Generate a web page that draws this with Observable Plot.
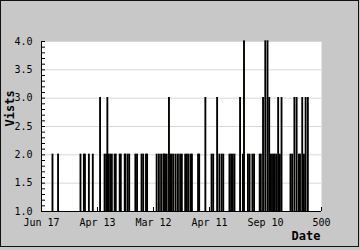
<!DOCTYPE html>
<html><head><meta charset="utf-8">
<script src="https://cdn.jsdelivr.net/npm/d3@7"></script>
<script src="https://cdn.jsdelivr.net/npm/@observablehq/plot@0.6"></script>
<style>
html,body{margin:0;padding:0;background:#c8c8c8;}
#wrap{position:relative;width:360px;height:250px;overflow:hidden;background:#c8c8c8;}
#border{position:absolute;left:0;top:0;width:359px;height:247px;box-sizing:border-box;border:1px solid #111;pointer-events:none;}
</style></head>
<body><div id="wrap"><div id="border"></div></div>
<script>
const days   = [20,30,70,76,78,85,92,105,113,116,118,120,123,126,131,133,140,142,149,150,154,157,168,171,179,182,187,189,206,210,214,218,219,221,224,228,230,233,236,240,244,248,251,257,260,263,267,269,280,282,293,304,307,314,318,322,325,336,339,342,345,355,360,362,369,372,377,380,390,392,396,400,404,407,409,412,415,417,420,423,426,429,445,448,452,456,460,462,466,469,472,476];
const visits = [2,2,2,2,2,2,2,3,2,2,3,2,2,2,2,2,2,2,2,2,2,2,2,2,2,2,2,2,2,2,2,2,2,2,2,3,2,2,2,2,2,2,2,2,2,2,2,2,2,2,3,2,2,3,2,2,2,2,2,2,2,3,2,4,2,2,2,2,2,2,3,4,4,3,2,2,2,2,2,3,2,3,2,2,3,3,2,2,3,2,3,3];
const xTicks = [0,100,200,300,400,500];
const xTickLabels = ["Jun 17","Apr 13","Mar 12","Apr 11","Sep 10","500"];
const yMajor = [1,1.5,2,2.5,3,3.5,4];
const yMinor = d3.range(10,41).map(v=>v/10);
const yGrid = [1.5,2,2.5,3,3.5,4];
const xTitle = "Date";
const yTitle = "Vists";

const data = days.map((d,i)=>({day:d, visits:visits[i]}));

const chart = Plot.plot({
  width:360, height:250,
  marginLeft:41, marginRight:39, marginTop:41, marginBottom:39,
  style:{background:"transparent", fontFamily:"'DejaVu Sans Mono', monospace", fontSize:"10px", color:"#000"},
  x:{domain:[0,500]},
  y:{domain:[1,4]},
  marks:[
    Plot.frame({fill:"white", stroke:null}),
    Plot.ruleY(yGrid,{stroke:"#d8d8d8"}),
    Plot.rect(data,{x1:"day", x2:d=>d.day+1, y1:1, y2:"visits", fill:"#f29b00", stroke:"#000", strokeWidth:1.3}),
    Plot.axisY(yMinor,{tickSize:4, dx:4, tickFormat:()=>"", label:null, stroke:"#000"}),
    Plot.axisY(yMajor,{tickSize:0, tickPadding:9, tickFormat:d3.format(".1f"), label:null}),
    Plot.axisX(xTicks,{tickSize:4, dy:-4, tickFormat:()=>"", label:null, stroke:"#000"}),
    Plot.axisX(xTicks,{tickSize:0, tickPadding:7, tickFormat:(d)=>xTickLabels[xTicks.indexOf(d)], label:null}),
    Plot.ruleX([0],{stroke:"#000"}),
    Plot.ruleY([1],{stroke:"#000"}),
    Plot.text([xTitle],{frameAnchor:"bottom-right", dy:28, dx:-1, textAnchor:"end", fontWeight:"bold", fontSize:12}),
    Plot.text([yTitle],{frameAnchor:"left", dx:-31, rotate:-90, fontWeight:"bold", fontSize:12})
  ]
});
document.getElementById("wrap").prepend(chart);
</script>
</body></html>
